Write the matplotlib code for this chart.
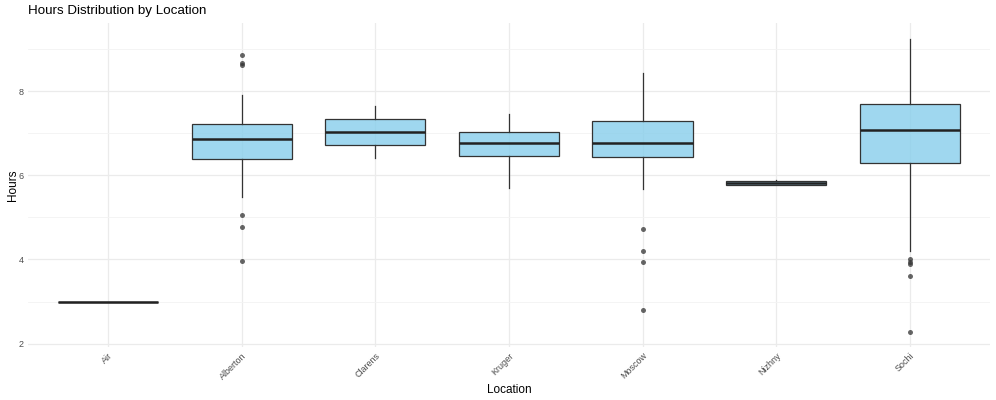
"""Boxplot of hours by location, ggplot theme_minimal look."""
import matplotlib

matplotlib.use("Agg")
import matplotlib.pyplot as plt
from matplotlib.colors import to_rgba

plt.rcParams["font.family"] = ["Liberation Sans", "DejaVu Sans"]

# box statistics
locations = ["Air", "Alberton", "Clarens", "Kruger", "Moscow", "Nizhny", "Sochi"]
medians = [3.00, 6.86, 7.03, 6.77, 6.77, 5.82, 7.07]
q1 = [3.00, 6.39, 6.72, 6.45, 6.44, 5.78, 6.29]
q3 = [3.00, 7.22, 7.33, 7.02, 7.29, 5.87, 7.69]
whisker_lo = [3.00, 5.48, 6.42, 5.70, 5.68, 5.78, 4.21]
whisker_hi = [3.00, 7.92, 7.64, 7.45, 8.43, 5.89, 9.25]
outliers = [
    [],
    [8.87, 8.68, 8.63, 5.05, 4.77, 3.97],
    [],
    [],
    [4.73, 4.20, 3.93, 2.80],
    [],
    [4.02, 3.93, 3.89, 3.60, 2.27],
]

EDGE = "#333333"
FILL = to_rgba("#87CEEB", 0.8)

stats = [dict(label=loc, med=m, q1=a, q3=b, whislo=lo, whishi=hi, fliers=f)
         for loc, m, a, b, lo, hi, f in zip(locations, medians, q1, q3,
                                            whisker_lo, whisker_hi, outliers)]

fig = plt.figure(figsize=(9.96, 4.0), dpi=100)
ax = fig.add_axes([0.028, 0.1325, 0.966, 0.81])

pos = list(range(1, len(locations) + 1))
ax.bxp(stats, positions=pos, widths=0.75, patch_artist=True, showcaps=False,
       boxprops=dict(facecolor=FILL, edgecolor=EDGE, linewidth=0.9),
       medianprops=dict(color="#222222", linewidth=1.8),
       whiskerprops=dict(color=EDGE, linewidth=0.9),
       flierprops=dict(marker="o", markersize=3.6, markerfacecolor=EDGE,
                       markeredgecolor="none", alpha=0.75),
       zorder=3)

ax.set_xlim(0.4, len(locations) + 0.6)
ax.set_ylim(1.92, 9.62)
ax.set_yticks([2, 4, 6, 8])
ax.set_yticks([3, 5, 7, 9], minor=True)
ax.set_xticks(pos)
ax.set_xticklabels(locations, rotation=45, ha="right", va="top",
                   rotation_mode="anchor")

ax.grid(True, which="major", color="#EBEBEB", linewidth=0.9, zorder=0)
ax.grid(True, which="minor", axis="y", color="#F3F3F3", linewidth=0.6,
        zorder=0)
ax.set_axisbelow(True)
for s in ax.spines.values():
    s.set_visible(False)
ax.tick_params(which="both", length=0, labelsize=6.5, labelcolor="#4D4D4D",
               pad=3)

ax.set_xlabel("Location", fontsize=8.5, labelpad=2)
ax.set_ylabel("Hours", fontsize=8.5, labelpad=-0.5)
fig.text(0.028, 0.972, "Hours Distribution by Location", fontsize=9.6,
         ha="left", va="center")

fig.savefig("out.png", dpi=100)
